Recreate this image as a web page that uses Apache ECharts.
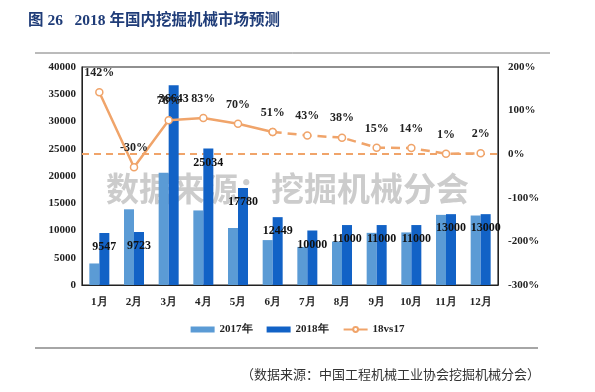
<!DOCTYPE html>
<html><head><meta charset="utf-8">
<script src="https://cdn.jsdelivr.net/npm/echarts@6/dist/echarts.min.js"></script>
<style>html,body{margin:0;padding:0;background:#fff}#c{width:595px;height:392px}</style>
</head><body><div id="c"></div>
<script>
var months = ['1月','2月','3月','4月','5月','6月','7月','8月','9月','10月','11月','12月'];
var sales2017 = [3950, 13890, 20590, 13680, 10460, 8240, 6990, 7970, 9570, 9650, 12870, 12750];
var sales2018 = [9547, 9723, 36643, 25034, 17780, 12449, 10000, 11000, 11000, 11000, 13000, 13000];
var growth = [142, -30, 78, 83, 70, 51, 43, 38, 15, 14, 1, 2];
var leftTicks = [0, 40000, 5000];
var rightTicks = [-300, 200, 100];
var actualCount = 6;

var growthSolid = growth.map(function(v,i){ return i < actualCount ? v : null; });
var growthDashed = growth.map(function(v,i){ return i >= actualCount - 1 ? v : null; });

var serif = '"Liberation Serif","Times New Roman",serif';
var orange = '#F0A46A';
var chart = echarts.init(document.getElementById('c'), null, {renderer:'canvas'});
chart.setOption({
  animation:false,
  grid:{left:82, right:97, top:67, bottom:107, show:true, borderColor:'#222', borderWidth:1.2, backgroundColor:'transparent'},
  graphic:{elements:[
    {type:'text', left:28, top:13, style:{text:'图 26   2018 年国内挖掘机械市场预测', fill:'#1F3C78', font:'bold 15.5px "Liberation Serif","Noto Sans CJK SC",serif'}},
    {type:'line', shape:{x1:35,y1:53,x2:550,y2:53}, style:{stroke:'#777', lineWidth:1}},
    {type:'line', shape:{x1:35,y1:348,x2:538,y2:348}, style:{stroke:'#888', lineWidth:1.5}},
    {type:'text', right:55, top:368, style:{text:'（数据来源：中国工程机械工业协会挖掘机械分会）', fill:'#333', font:'13px "Noto Sans CJK SC",sans-serif'}},
    {type:'text', left:106, top:172, style:{text:'数据来源：挖掘机械分会', fill:'rgba(195,195,195,0.85)', font:'bold 33px "Noto Sans CJK SC",sans-serif'}}
  ]},
  legend:{
    bottom:52, left:'center', itemGap:14, itemWidth:24, itemHeight:6,
    textStyle:{fontFamily:serif, fontWeight:'bold', fontSize:11, color:'#222'},
    data:[
      {name:'2017年', icon:'rect'},
      {name:'2018年', icon:'rect'},
      {name:'18vs17'}
    ]
  },
  xAxis:{
    type:'category', data:months,
    axisLine:{lineStyle:{color:'#222'}}, axisTick:{show:false},
    axisLabel:{fontFamily:serif, fontWeight:'bold', fontSize:11, color:'#222', margin:12}
  },
  yAxis:[
    {type:'value', min:leftTicks[0], max:leftTicks[1], interval:leftTicks[2],
     splitLine:{show:false}, axisLine:{show:true, lineStyle:{color:'#222'}}, axisTick:{show:false},
     axisLabel:{fontFamily:serif, fontWeight:'bold', fontSize:11, color:'#222', margin:6, formatter:function(v){return String(v);}}},
    {type:'value', min:rightTicks[0], max:rightTicks[1], interval:rightTicks[2], alignTicks:false,
     splitLine:{show:false}, axisLine:{show:true, lineStyle:{color:'#222'}}, axisTick:{show:false},
     axisLabel:{fontFamily:serif, fontWeight:'bold', fontSize:11, color:'#222', margin:10, formatter:'{value}%'}}
  ],
  series:[
    {name:'2017年', type:'bar', zlevel:1, data:sales2017, barWidth:10, barGap:'0%', itemStyle:{color:'#5B9BD5'}, z:2},
    {name:'2018年', type:'bar', zlevel:1, data:sales2018, barWidth:10, itemStyle:{color:'#1262C6'}, z:2,
     label:{show:true, position:'insideTop', distance:8, color:'#111', fontFamily:serif, fontWeight:'bold', fontSize:12}},
    {name:'18vs17', type:'line', zlevel:1, yAxisIndex:1, data:growthSolid, z:5,
     lineStyle:{color:orange, width:2.5}, itemStyle:{color:'#fff', borderColor:orange, borderWidth:1.5},
     symbol:'circle', symbolSize:7,
     label:{show:true, position:'top', distance:9, color:'#222', fontFamily:serif, fontWeight:'bold', fontSize:12, formatter:'{c}%'},
     markLine:{silent:true, symbol:'none', label:{show:false},
       lineStyle:{color:orange, type:[7,5], width:1.8}, data:[{yAxis:0}]}},
    {name:'18vs17', type:'line', zlevel:1, yAxisIndex:1, data:growthDashed, z:5,
     lineStyle:{color:orange, width:2.5, type:[9,6]}, itemStyle:{color:'#fff', borderColor:orange, borderWidth:1.5},
     symbol:'circle', symbolSize:7,
     label:{show:true, position:'top', distance:9, color:'#222', fontFamily:serif, fontWeight:'bold', fontSize:12,
       formatter:function(p){ return p.dataIndex === actualCount - 1 ? '' : p.value + '%'; }}}
  ]
});
</script>
</body></html>
